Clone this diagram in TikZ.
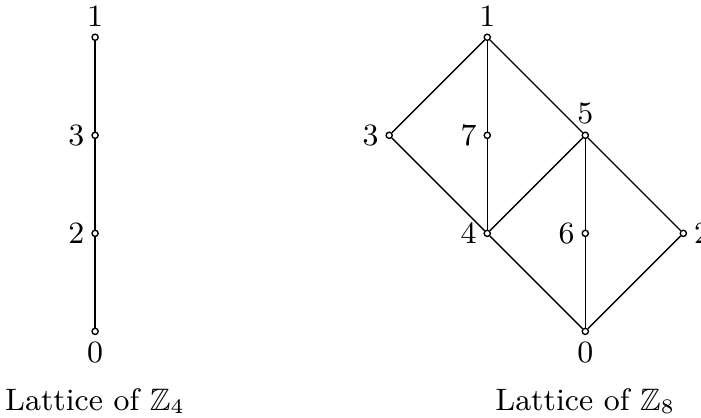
\documentclass[tikz,border=0pt]{standalone}
\usepackage{amsmath,amssymb}
\usepackage{tikz}
\usetikzlibrary{positioning}

\begin{document}
\begin{tikzpicture}[
  elem/.style={draw, circle, fill=white, inner sep=0pt, minimum size=1.8pt},
  link/.style={thin},
  title/.style={font=\small},
  every label/.style={font=\small, inner sep=1.8pt},
]
  \useasboundingbox (-0.97, -0.88) rectangle (6.18, 3.38);

  % Lattice of Z4
  \node[elem, label=below:0] (a0) at (0, 0) {};
  \node[elem, label=left:2] (a2) at (0, 1) {};
  \node[elem, label=left:3] (a3) at (0, 2) {};
  \node[elem, label=above:1] (a1) at (0, 3) {};

  % Lattice of Z8
  \node[elem, label=below:0] (b0) at (5, 0) {};
  \node[elem, label=left:4] (b4) at (4, 1) {};
  \node[elem, label=left:6] (b6) at (5, 1) {};
  \node[elem, label=right:2] (b2) at (6, 1) {};
  \node[elem, label=left:3] (b3) at (3, 2) {};
  \node[elem, label=left:7] (b7) at (4, 2) {};
  \node[elem, label=above:5] (b5) at (5, 2) {};
  \node[elem, label=above:1] (b1) at (4, 3) {};

  % Captions
  \node[title] (capa) at (0, -0.71) {Lattice of $\mathbb{Z}_4$};
  \node[title] (capb) at (5, -0.71) {Lattice of $\mathbb{Z}_8$};

  % Edges
  \draw[link] (a0) -- (a2) -- (a3) -- (a1);
  \draw[link] (b0) -- (b4) -- (b3) -- (b1);
  \draw[link] (b0) -- (b6) -- (b5);
  \draw[link] (b0) -- (b2) -- (b5) -- (b1);
  \draw[link] (b4) -- (b7) -- (b1);
  \draw[link] (b4) -- (b5);
\end{tikzpicture}
\end{document}
